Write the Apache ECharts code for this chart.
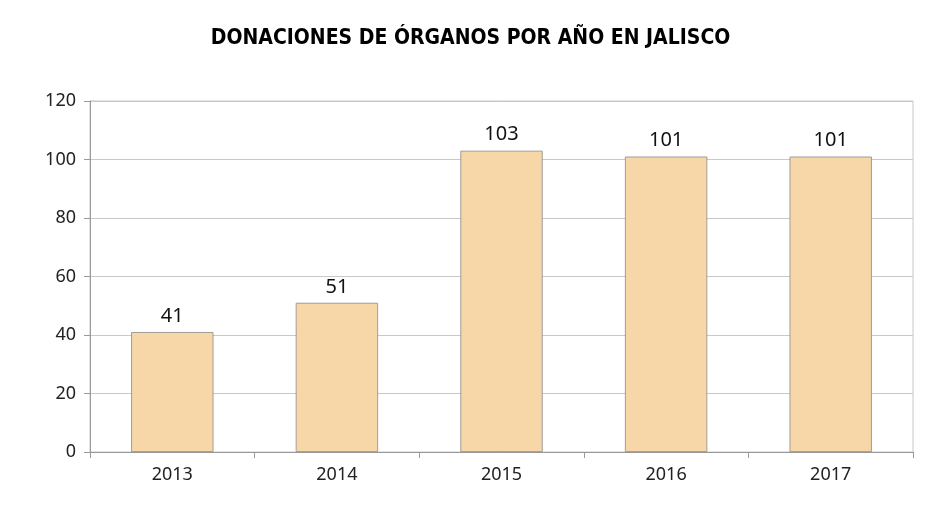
<!DOCTYPE html>
<html><head><meta charset="utf-8">
<script src="https://cdn.jsdelivr.net/npm/echarts@6/dist/echarts.min.js"></script>
<style>html,body{margin:0;padding:0;background:#fff}#c{width:941px;height:506px}</style>
</head><body><div id="c"></div>
<script>
const categories = ['2013','2014','2015','2016','2017'];
const values = [41, 51, 103, 101, 101];
const yTicks = [0,20,40,60,80,100,120];
const titleText = 'DONACIONES DE ÓRGANOS POR AÑO EN JALISCO';
const chart = echarts.init(document.getElementById('c'));
chart.setOption({
  animation:false,
  title:{text:titleText,left:'center',top:23,textStyle:{fontFamily:'Liberation Sans Narrow, DejaVu Sans Condensed, sans-serif',fontWeight:'bold',fontSize:21,color:'#000'}},
  grid:{left:90,right:28,top:101,bottom:54,show:true,borderColor:'#c8c8c8',borderWidth:1},
  xAxis:{type:'category',data:categories,
    axisLine:{lineStyle:{color:'#999'}},
    axisTick:{show:true,length:6,lineStyle:{color:'#999'}},
    axisLabel:{color:'#222',fontSize:18,margin:14,fontFamily:'Noto Sans, sans-serif'}},
  yAxis:{type:'value',min:0,max:120,interval:20,
    axisLine:{show:true,lineStyle:{color:'#999'}},
    axisTick:{show:true,length:6,lineStyle:{color:'#999'}},
    splitLine:{lineStyle:{color:'#c8c8c8'}},
    axisLabel:{color:'#222',fontSize:18,margin:14,fontFamily:'Noto Sans, sans-serif'}},
  series:[{type:'bar',data:values,barWidth:'50%',
    itemStyle:{color:'#f7d7a8',borderColor:'#8a8a8a',borderWidth:0.8},
    label:{show:true,position:'top',fontSize:20,color:'#111',distance:6,fontFamily:'Noto Sans, sans-serif'}}]
});
</script></body></html>
